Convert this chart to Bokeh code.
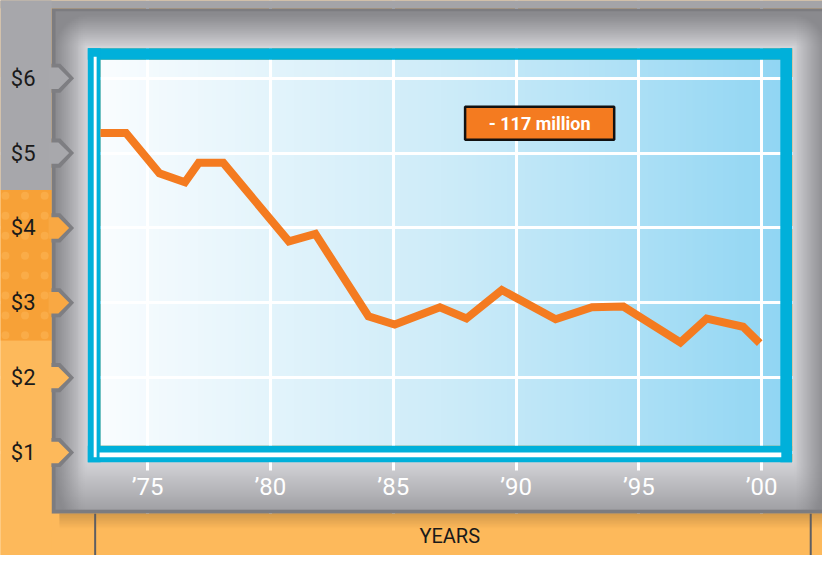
import numpy as np
from bokeh.plotting import figure
from bokeh.models import Range1d, LinearAxis, FixedTicker, Grid
from bokeh.core.properties import value
from bokeh.embed import file_html
from bokeh.resources import INLINE

# ---------------- data ----------------
years = [1973.08, 1974.12, 1975.48, 1976.52, 1977.08, 1978.08, 1980.75, 1981.83,
         1983.99, 1985.06, 1986.90, 1987.98, 1989.42, 1991.61, 1993.09, 1994.37,
         1996.69, 1997.76, 1999.24, 1999.92]
values = [5.27, 5.27, 4.73, 4.61, 4.87, 4.87, 3.82, 3.92,
          2.82, 2.71, 2.94, 2.79, 3.17, 2.78, 2.94, 2.95,
          2.47, 2.79, 2.68, 2.46]
year_ticks = [1975, 1980, 1985, 1990, 1995, 2000]
year_labels = ["\u201975", "\u201980", "\u201985", "\u201990", "\u201995", "\u201900"]
dollar_ticks = [1, 2, 3, 4, 5, 6]
dollar_labels = ["$1", "$2", "$3", "$4", "$5", "$6"]
note_text = "- 117 million"
note_year = 1990.96
note_value = 5.4
x_title = "YEARS"

# ---------------- pixel <-> data helpers (reference pixel coords) ----------------
def X(px):
    return 1975 + (px - 150) / 25.04

def Y(py):
    return 1 + (465 - py) / 77.0

W, H = 822, 555
p = figure(width=W, height=H, x_range=Range1d(X(0), X(838)), y_range=Range1d(Y(571), Y(0)),
           output_backend="svg", toolbar_location=None, x_axis_location=None, y_axis_location=None,
           min_border=0)
p.center = []
p.outline_line_color = None
p.background_fill_color = "#FDB95B"
p.border_fill_color = "#FDB95B"

# ---------------- blue interior (horizontal gradient) ----------------
ix0, ix1, iy0, iy1 = 102, 796, 61, 458
nxi = (ix1 - ix0) // 2
xs_i = ix0 + (np.arange(nxi) + 0.5) * 2
stops_x = [102, 300, 450, 600, 796]
stops_r = [250, 224, 206, 181, 145]
stops_g = [253, 243, 236, 227, 214]
stops_b = [255, 251, 249, 247, 243]
blue = np.empty((1, nxi), dtype=np.uint32)
bv = blue.view(dtype=np.uint8).reshape((1, nxi, 4))
bv[0, :, 0] = np.interp(xs_i, stops_x, stops_r)
bv[0, :, 1] = np.interp(xs_i, stops_x, stops_g)
bv[0, :, 2] = np.interp(xs_i, stops_x, stops_b)
bv[0, :, 3] = 255
p.image_rgba(image=[blue], x=X(ix0), y=Y(iy1), dw=X(ix1) - X(ix0), dh=Y(iy0) - Y(iy1), level="image")

# ---------------- grids ----------------
p.add_layout(Grid(dimension=0, ticker=FixedTicker(ticks=year_ticks), grid_line_color="white", grid_line_width=3))
p.add_layout(Grid(dimension=1, ticker=FixedTicker(ticks=dollar_ticks), grid_line_color="white", grid_line_width=3))

# ---------------- gray panel (vignette image with hole) ----------------
step = 2
px0, px1, py0, py1 = 52, 840, 8, 528
nx, ny = (px1 - px0) // step, (py1 - py0) // step
xs = px0 + (np.arange(nx) + 0.5) * step
ys = py0 + (np.arange(ny) + 0.5) * step
XX, YY = np.meshgrid(xs, ys)
dx = np.maximum(np.maximum(89 - XX, XX - 807), 0)
dyt = np.maximum(49 - YY, 0)
dyb = np.maximum(YY - 475, 0)
d = np.sqrt(dx ** 2 + dyt ** 2 + (0.45 * dyb) ** 2)
g = np.clip(1 - d / 34.0, 0, 1)
c = 138 + 74 * g ** 1.1
border = (XX < 57) | (YY < 13) | (YY > 523)
c[border] = 124
hole = (XX > 90) & (XX < 806) & (YY > 50) & (YY < 474)
panel = np.empty((ny, nx), dtype=np.uint32)
pv = panel.view(dtype=np.uint8).reshape((ny, nx, 4))
pv[..., 0] = c
pv[..., 1] = c
pv[..., 2] = np.clip(c + 4, 0, 255)
pv[..., 3] = np.where(hole, 0, 255)
panel = np.flipud(panel).copy()
p.image_rgba(image=[panel], x=X(px0), y=Y(py1), dw=X(px1) - X(px0), dh=Y(py0) - Y(py1))

def pquad(l, r, t, b, **kw):
    p.quad(left=[X(v) for v in l], right=[X(v) for v in r], top=[Y(v) for v in t],
           bottom=[Y(v) for v in b], line_color=None, **kw)

# strip above the panel
pquad([-5], [845], [-5], [8], fill_color="#A4A4A8")

# left column
pquad([-5], [52], [-5], [195], fill_color="#A7A7AB")
pquad([-5], [52], [195], [350], fill_color="#F7A137")
pquad([-5], [52], [350], [580], fill_color="#FDB95B")
dot_x, dot_y = [], []
for k in range(8):
    for xx in (5, 25, 45):
        dot_x.append(X(xx))
        dot_y.append(Y(201 + 20.5 * k))
p.scatter(x=dot_x, y=dot_y, size=8, fill_color="#FAAC48", line_color=None)

# bottom strip + shadow
pquad([52], [845], [528], [580], fill_color="#FDB95B")
for i in range(10):
    pquad([60], [845], [528 + 1.5 * i], [528 + 1.5 * (i + 1)], fill_color="black",
          fill_alpha=0.16 * (1 - i / 10.0))
p.segment(x0=[X(96.5), X(826)], y0=[Y(528)] * 2, x1=[X(96.5), X(826)], y1=[Y(580)] * 2,
          line_color="#5E5E62", line_width=2)

# cyan frame
pquad([89, 89, 89, 795], [807, 807, 102, 807], [49, 458, 49, 49], [61, 475, 475, 475], fill_color="#00B0DA")
pquad([95, 101], [98, 796], [58, 465], [470, 470], fill_color="white")

# tabs
tab_fill = {6: "#A8A8AC", 5: "#A8A8AC", 4: "#F9A843", 3: "#F9A843", 2: "#FDB95B", 1: "#FDB95B"}
oxs, oys, fxs, fys, fcs = [], [], [], [], []
for v in dollar_ticks:
    yc = 465 - (v - 1) * 77.0
    oxs.append([X(52), X(61), X(75), X(61), X(52)])
    oys.append([Y(yc - 15), Y(yc - 15), Y(yc), Y(yc + 15), Y(yc + 15)])
    fxs.append([X(49), X(59), X(70), X(59), X(49)])
    fys.append([Y(yc - 11), Y(yc - 11), Y(yc), Y(yc + 11), Y(yc + 11)])
    fcs.append(tab_fill[v])
p.patches(xs=oxs, ys=oys, fill_color="#7E7E82", line_color=None)
p.patches(xs=fxs, ys=fys, fill_color=fcs, line_color=None)

# ---------------- data line ----------------
p.line(x=years, y=values, line_color="#F47B20", line_width=8, line_join="miter")

# ---------------- annotation ----------------
p.rect(x=[note_year], y=[note_value], width=152 / 25.04, height=34 / 77.0,
       fill_color="#F47B20", line_color="#111111", line_width=2.5)
p.text(x=[note_year], y=[note_value], text=[note_text], text_align="center", text_baseline="middle",
       text_font=value("Roboto"), text_font_style="bold", text_font_size="18px", text_color="white")

p.text(x=[X(458)], y=[Y(551)], text=[x_title], text_align="center", text_baseline="middle",
       text_font=value("Roboto"), text_font_size="20px", text_color="#1A1A1A")

# ---------------- axes ----------------
xaxis = LinearAxis(ticker=FixedTicker(ticks=year_ticks),
                   major_label_overrides={t: l for t, l in zip(year_ticks, year_labels)},
                   fixed_location=Y(475), axis_line_color=None,
                   major_tick_line_color="white", major_tick_line_width=3,
                   major_tick_in=0, major_tick_out=8, minor_tick_line_color=None,
                   major_label_text_color="white", major_label_text_font="Roboto",
                   major_label_text_font_size="24px", major_label_standoff=3)
p.add_layout(xaxis, "below")
yaxis = LinearAxis(ticker=FixedTicker(ticks=dollar_ticks),
                   major_label_overrides={t: l for t, l in zip(dollar_ticks, dollar_labels)},
                   fixed_location=X(52), axis_line_color=None,
                   major_tick_line_color=None, major_tick_in=0, major_tick_out=0,
                   minor_tick_line_color=None,
                   major_label_text_color="#1A1A1A", major_label_text_font="Roboto",
                   major_label_text_font_size="22px", major_label_standoff=16)
p.add_layout(yaxis, "left")

open("out.html", "w").write(file_html(p, INLINE))
